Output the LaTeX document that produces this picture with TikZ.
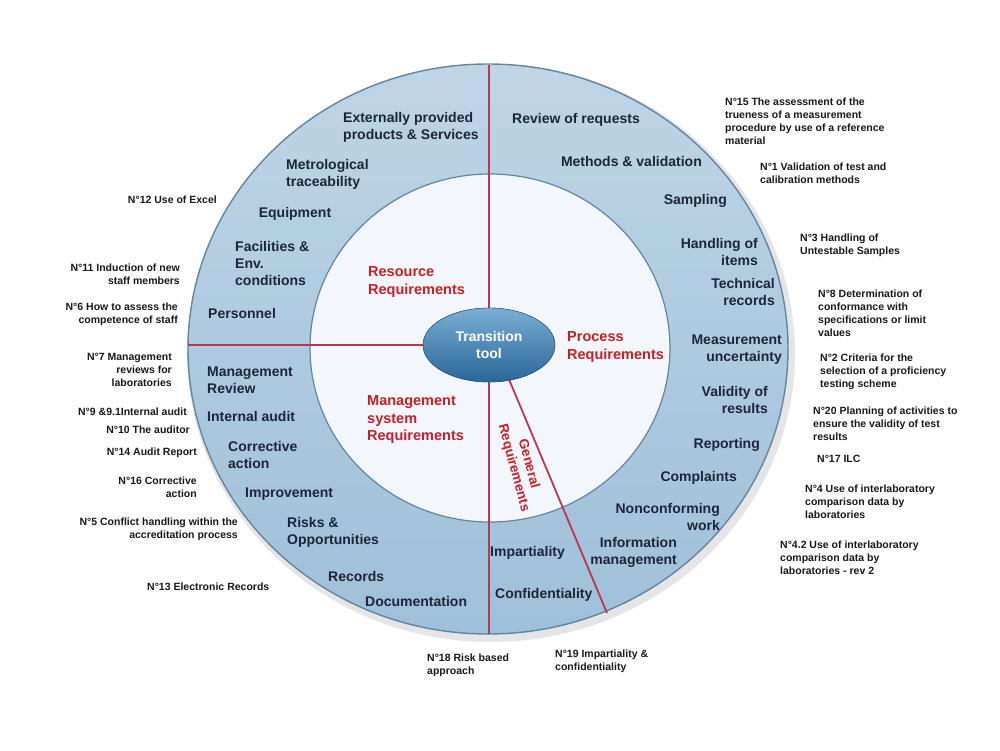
\documentclass[tikz,border=0pt]{standalone}
\usepackage{fontspec}
\setmainfont{Liberation Sans}
\usepackage{tikz}
\usetikzlibrary{shapes.geometric}
\definecolor{ringtop}{RGB}{190,213,230}
\definecolor{ringbot}{RGB}{158,192,216}
\definecolor{ringedge}{RGB}{100,133,160}
\definecolor{corefill}{RGB}{243,247,251}
\definecolor{sepred}{RGB}{185,55,80}
\definecolor{titlered}{RGB}{200,30,40}
\definecolor{navy}{RGB}{28,38,58}
\definecolor{tooltop}{RGB}{122,174,212}
\definecolor{toolbot}{RGB}{42,102,152}

\begin{document}
\begin{tikzpicture}[
    x=1pt,y=-1pt,
    ringlbl/.style={inner sep=0pt,font=\fontsize{14}{17}\selectfont\bfseries,text=navy,align=#1},
    ringlbl/.default=center,
    reqtitle/.style={inner sep=0pt,font=\fontsize{14.5}{17.5}\selectfont\bfseries,text=titlered,align=#1},
    reqtitle/.default=left,
    notelbl/.style={inner sep=0pt,font=\fontsize{10.5}{13}\selectfont\bfseries,text=black!90,align=#1},
    notelbl/.default=left,
    sepline/.style={draw=sepred,line width=1.8pt},
    tool/.style={ellipse,minimum width=132pt,minimum height=74pt,inner sep=0pt,top color=tooltop,bottom color=toolbot,draw=toolbot!80!black,line width=0.4pt,text=white,font=\fontsize{14}{17}\selectfont\bfseries,align=center}
]
\useasboundingbox (0,0) rectangle (1000,750);
\fill[white] (0,0) rectangle (1000,750);

% rings
\coordinate (ctr) at (488,349);
\coordinate (core) at (490,348);
\fill[black,opacity=0.10] (491,353) ellipse [x radius=304pt,y radius=289pt];
\fill[top color=ringtop,bottom color=ringbot] (ctr) ellipse [x radius=300pt,y radius=285pt];
\draw[ringedge,line width=1.4pt] (ctr) ellipse [x radius=300pt,y radius=285pt];
\fill[corefill] (core) ellipse [x radius=180pt,y radius=174pt];
\draw[ringedge,line width=1.2pt] (core) ellipse [x radius=180pt,y radius=174pt];

% dividers
\node[tool] (tool) at (489,345) {Transition\\tool};
\coordinate (ntop) at (489,65);
\coordinate (nwest) at (188,345);
\coordinate (nbot) at (489,634);
\coordinate (gend) at (607,613);
\draw[sepline] (tool.north) -- (ntop);
\draw[sepline] (tool.west) -- (nwest);
\draw[sepline] (tool.south) -- (nbot);
\draw[sepline] (tool.-60) -- (gend);
\node[tool] at (tool) {Transition\\tool};

% section titles
\node[reqtitle,anchor=west] (resreq) at (368,282) {Resource\\Requirements};
\node[reqtitle,anchor=west] (procreq) at (567,347) {Process\\Requirements};
\node[reqtitle,anchor=west] (mgmtreq) at (367,420) {Management\\system\\Requirements};
\node[reqtitle=center,rotate=-75,font=\fontsize{13.5}{15.5}\selectfont\bfseries] (genreq) at (521,466) {General\\Requirements};

% resource ring
\node[ringlbl=left,anchor=west] (ext) at (343,127) {Externally provided\\products \& Services};
\node[ringlbl=left,anchor=west] (metro) at (286,174) {Metrological\\traceability};
\node[ringlbl] (equip) at (295,214) {Equipment};
\node[ringlbl=left,anchor=west] (facil) at (235,263) {Facilities \&\\Env.\\conditions};
\node[ringlbl,anchor=west] (pers) at (208,313) {Personnel};

% process ring
\node[ringlbl,anchor=west] (review) at (512,120) {Review of requests};
\node[ringlbl,anchor=east] (methods) at (702,161) {Methods \& validation};
\node[ringlbl,anchor=east] (sampl) at (727,201) {Sampling};
\node[ringlbl=right,anchor=east] (handl) at (758,252) {Handling of\\items};
\node[ringlbl=right,anchor=east] (techrec) at (775,292) {Technical\\records};
\node[ringlbl=right,anchor=east] (measunc) at (782,350) {Measurement\\uncertainty};
\node[ringlbl=right,anchor=east] (valid) at (768,400) {Validity of\\results};
\node[ringlbl,anchor=east] (report) at (760,445) {Reporting};
\node[ringlbl,anchor=east] (compl) at (737,478) {Complaints};
\node[ringlbl=right,anchor=east] (noncon) at (720,517) {Nonconforming\\work};
\node[ringlbl=right,anchor=east] (infomgmt) at (677,552) {Information\\management};

% general ring
\node[ringlbl,anchor=west] (impart) at (490,553) {Impartiality};
\node[ringlbl,anchor=west] (confid) at (495,595) {Confidentiality};

% management ring
\node[ringlbl=left,anchor=west] (mgmtrev) at (207,380) {Management\\Review};
\node[ringlbl,anchor=west] (intaudit) at (207,416) {Internal audit};
\node[ringlbl=left,anchor=west] (corract) at (228,455) {Corrective\\action};
\node[ringlbl,anchor=west] (improv) at (245,494) {Improvement};
\node[ringlbl=left,anchor=west] (risks) at (287,532) {Risks \&\\Opportunities};
\node[ringlbl,anchor=west] (records) at (328,576) {Records};
\node[ringlbl,anchor=west] (docum) at (365,601) {Documentation};

% notes left
\node[notelbl=right,anchor=east] (n12) at (217,200) {N°12 Use of Excel};
\node[notelbl=right,anchor=east] (n11) at (180,274) {N°11 Induction of new\\staff members};
\node[notelbl=right,anchor=east] (n6) at (178,314) {N°6 How to assess the\\competence of staff};
\node[notelbl=right,anchor=east] (n7) at (172,370) {N°7 Management\\reviews for\\laboratories};
\node[notelbl=right,anchor=east] (n9) at (187,412) {N°9 \&9.1Internal audit};
\node[notelbl=right,anchor=east] (n10) at (190,430) {N°10 The auditor};
\node[notelbl=right,anchor=east] (n14) at (197,453) {N°14 Audit Report};
\node[notelbl=right,anchor=east] (n16) at (197,487) {N°16 Corrective\\action};
\node[notelbl=right,anchor=east] (n5) at (238,529) {N°5 Conflict handling within the\\accreditation process};
\node[notelbl,anchor=west] (n13) at (147,587) {N°13 Electronic Records};

% notes right
\node[notelbl,anchor=west] (n15) at (725,121) {N°15 The assessment of the\\trueness of a measurement\\procedure by use of a reference\\material};
\node[notelbl,anchor=west] (n1) at (760,173) {N°1 Validation of test and\\calibration methods};
\node[notelbl,anchor=west] (n3) at (800,245) {N°3 Handling of\\Untestable Samples};
\node[notelbl,anchor=west] (n8) at (818,313) {N°8 Determination of\\conformance with\\specifications or limit\\values};
\node[notelbl,anchor=west] (n2) at (820,372) {N°2 Criteria for the\\selection of a proficiency\\testing scheme};
\node[notelbl,anchor=west] (n20) at (813,424) {N°20 Planning of activities to\\ensure the validity of test\\results};
\node[notelbl,anchor=west] (n17) at (817,459) {N°17 ILC};
\node[notelbl,anchor=west] (n4) at (805,502) {N°4 Use of interlaboratory\\comparison data by\\laboratories};
\node[notelbl,anchor=west] (n42) at (780,558) {N°4.2 Use of interlaboratory\\comparison data by\\laboratories - rev 2};

% notes bottom
\node[notelbl,anchor=west] (n18) at (427,665) {N°18 Risk based\\approach};
\node[notelbl,anchor=west] (n19) at (555,661) {N°19 Impartiality \&\\confidentiality};

\end{tikzpicture}
\end{document}
